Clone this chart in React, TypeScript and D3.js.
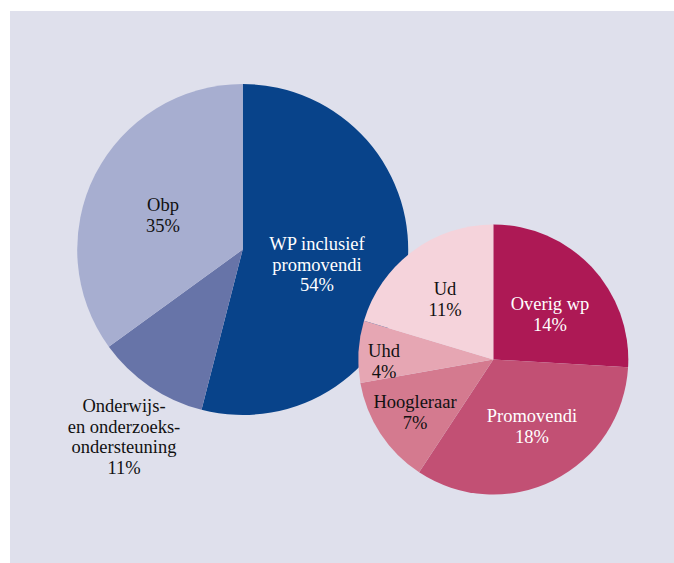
import React from "react";
import * as d3 from "d3";

const W = 674;
const H = 563;

const mainLabels = ["WP inclusief promovendi", "Onderwijs- en onderzoeksondersteuning", "Obp"];
const mainValues = [54, 11, 35];
const mainColors = ["#08438a", "#6774a8", "#a7aed0"];
const mainTextLines = [
  ["WP inclusief", "promovendi", "54%"],
  ["Onderwijs-", "en onderzoeks-", "ondersteuning", "11%"],
  ["Obp", "35%"],
];
const mainTextColors = ["#ffffff", "#111111", "#111111"];
const mainTextPos = [
  [317, 250],
  [124, 412],
  [163, 211],
];

const wpLabels = ["Overig wp", "Promovendi", "Hoogleraar", "Uhd", "Ud"];
const wpValues = [14, 18, 7, 4, 11];
const wpColors = ["#ad1955", "#c25074", "#d47a8f", "#e6a6b3", "#f5d3db"];
const wpTextLines = [
  ["Overig wp", "14%"],
  ["Promovendi", "18%"],
  ["Hoogleraar", "7%"],
  ["Uhd", "4%"],
  ["Ud", "11%"],
];
const wpTextColors = ["#ffffff", "#ffffff", "#111111", "#111111", "#111111"];
const wpTextPos = [
  [550, 310],
  [532, 422],
  [415, 408],
  [384, 357],
  [445, 295],
];

export default function App() {
  const pie = d3.pie<number>().sort(null).value((d) => d);
  const bigR = 165.5;
  const smallR = 135;
  const bigC = [242.7, 249.5];
  const smallC = [493.3, 359.5];
  const bigArcs = pie(mainValues);
  const smallArcs = pie(wpValues);
  const bigArc = d3.arc<d3.PieArcDatum<number>>().innerRadius(0).outerRadius(bigR);
  const smallArc = d3.arc<d3.PieArcDatum<number>>().innerRadius(0).outerRadius(smallR);
  const font = "'Liberation Serif', 'Times New Roman', serif";
  const fs = 18.5;
  const lh = 20.7;

  const renderText = (lines: string[], pos: number[], color: string, key: string) => (
    <text key={key} x={pos[0]} y={pos[1]} textAnchor="middle" fontFamily={font} fontSize={fs} fill={color}>
      {lines.map((l, i) => (
        <tspan key={i} x={pos[0]} y={pos[1] + i * lh}>
          {l}
        </tspan>
      ))}
    </text>
  );

  return (
    <svg width={W} height={H} style={{ position: "absolute", left: 0, top: 0, display: "block" }}>
      <rect x={0} y={0} width={W} height={H} fill="#ffffff" />
      <rect x={10} y={11} width={W - 10} height={H - 11} fill="#dfe0ec" />
      <g transform={`translate(${bigC[0]},${bigC[1]})`}>
        {bigArcs.map((a, i) => (
          <path key={mainLabels[i]} d={bigArc(a) || ""} fill={mainColors[i]} />
        ))}
      </g>
      <g transform={`translate(${smallC[0]},${smallC[1]})`}>
        {smallArcs.map((a, i) => (
          <path key={wpLabels[i]} d={smallArc(a) || ""} fill={wpColors[i]} />
        ))}
      </g>
      {mainTextLines.map((lines, i) => renderText(lines, mainTextPos[i], mainTextColors[i], "m" + i))}
      {wpTextLines.map((lines, i) => renderText(lines, wpTextPos[i], wpTextColors[i], "w" + i))}
    </svg>
  );
}
